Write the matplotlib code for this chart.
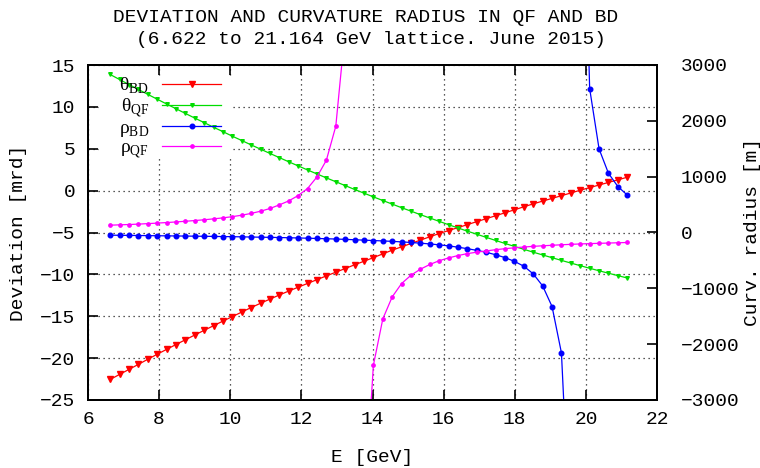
import numpy as np
import matplotlib
matplotlib.use('Agg')
import matplotlib.pyplot as plt
from matplotlib.patches import Rectangle

plt.rcParams['font.family'] = ['Liberation Mono', 'DejaVu Sans Mono']
plt.rcParams['mathtext.fontset'] = 'custom'
plt.rcParams['mathtext.rm'] = 'Liberation Serif'

# energy grid of the lattice (GeV)
energy = [6.622, 6.886, 7.151, 7.415, 7.680, 7.944, 8.208, 8.473, 8.737, 9.002,
          9.266, 9.530, 9.795, 10.059, 10.324, 10.588, 10.852, 11.117, 11.381, 11.646,
          11.910, 12.174, 12.439, 12.703, 12.968, 13.232, 13.496, 13.761, 14.025, 14.290,
          14.554, 14.818, 15.083, 15.347, 15.612, 15.876, 16.140, 16.405, 16.669, 16.934,
          17.198, 17.462, 17.727, 17.991, 18.256, 18.520, 18.784, 19.049, 19.313, 19.578,
          19.842, 20.106, 20.371, 20.635, 20.900, 21.164]

# deviation [mrd]
theta_bd = [-22.55, -21.95, -21.35, -20.75, -20.14, -19.54, -18.96, -18.38, -17.81, -17.24,
            -16.68, -16.13, -15.58, -15.04, -14.50, -13.96, -13.45, -12.95, -12.46, -11.99,
            -11.53, -11.08, -10.63, -10.18, -9.74, -9.30, -8.86, -8.43, -8.00, -7.55,
            -7.11, -6.71, -6.31, -5.91, -5.51, -5.12, -4.77, -4.41, -4.06, -3.70,
            -3.35, -3.00, -2.64, -2.29, -1.93, -1.58, -1.25, -0.93, -0.60, -0.28,
            0.05, 0.36, 0.67, 0.98, 1.29, 1.60]
theta_qf = [13.87, 13.27, 12.67, 12.08, 11.50, 10.92, 10.35, 9.78, 9.22, 8.66,
            8.12, 7.57, 7.04, 6.50, 5.98, 5.46, 4.95, 4.44, 3.94, 3.44,
            2.95, 2.47, 1.99, 1.52, 1.06, 0.60, 0.14, -0.30, -0.75, -1.18,
            -1.61, -2.04, -2.45, -2.87, -3.27, -3.67, -4.07, -4.46, -4.84, -5.21,
            -5.58, -5.95, -6.31, -6.66, -7.01, -7.35, -7.68, -8.01, -8.33, -8.65,
            -8.96, -9.27, -9.57, -9.86, -10.15, -10.43]

# curvature radius [m]
rho_bd = [-48, -50, -52, -54, -56, -58, -60, -62, -64, -66,
          -68, -70, -73, -75, -78, -81, -84, -87, -90, -94,
          -98, -102, -107, -112, -117, -123, -130, -137, -144, -151,
          -159, -168, -179, -191, -205, -221, -240, -263, -290, -320,
          -355, -398, -450, -517, -604, -741, -956, -1326, -2157, -5700,
          9000, 2579, 1497, 1060, 823, 670]
rho_qf = [131, 137, 143, 150, 159, 168, 178, 189, 201, 214,
          228, 244, 262, 284, 310, 342, 381, 430, 495, 566,
          662, 788, 996, 1295, 1904, 3640, 40000, -5100, -2377, -1547,
          -1153, -914, -765, -657, -573, -505, -455, -413, -378, -352,
          -330, -308, -290, -274, -260, -248, -238, -229, -220, -212,
          -205, -199, -194, -189, -184, -179]


def gnuplot_clip(x, y, lo, hi):
    # like gnuplot: drop a segment when both of its ends are off the plot
    xs, ys = [x[0]], [y[0]]
    for i in range(1, len(x)):
        if not (lo <= y[i - 1] <= hi) and not (lo <= y[i] <= hi):
            xs.append(np.nan)
            ys.append(np.nan)
        xs.append(x[i])
        ys.append(y[i])
    return xs, ys


fig = plt.figure(figsize=(7.6, 4.68), dpi=100)
ax = fig.add_axes([88 / 760, 1 - 400 / 468, 569 / 760, 335 / 468])
ax2 = ax.twinx()

ax.set_xlim(6, 22)
ax.set_ylim(-25, 15)
ax2.set_ylim(-3000, 3000)

ax.set_axisbelow(True)
ax.grid(True, color='#222222', linestyle=(0, (1, 3)), linewidth=0.9)

# opaque key area (grid hidden behind the key)
ax.add_patch(Rectangle((0.019, 0.725), 0.236, 0.242, transform=ax.transAxes,
                       facecolor='white', edgecolor='none', zorder=1))

l1, = ax.plot(energy, theta_bd, color='#ff0000', lw=0.9, marker='v', ms=3.8,
              label=r'θ$_{\mathrm{BD}}$', zorder=2)
l2, = ax.plot(energy, theta_qf, color='#00dd00', lw=0.9, marker='v', ms=2.6,
              label=r'θ$_{\mathrm{QF}}$', zorder=2)
xb, yb = gnuplot_clip(energy, rho_bd, -3000, 3000)
l3, = ax2.plot(xb, yb, color='#0000ff', lw=0.9, marker='o', ms=3.3,
               label=r'ρ$_{\mathrm{BD}}$')
xq, yq = gnuplot_clip(energy, rho_qf, -3000, 3000)
l4, = ax2.plot(xq, yq, color='#ff00ff', lw=0.9, marker='o', ms=2.4,
               label=r'ρ$_{\mathrm{QF}}$')

ax.set_xticks(np.arange(6, 23, 2))
ax.set_yticks(np.arange(-25, 16, 5))
ax2.set_yticks(np.arange(-3000, 3001, 1000))

ax.tick_params(axis='x', direction='in', top=True, length=7.5, width=1.2,
               labelsize=14, pad=8)
ax.tick_params(axis='y', direction='in', left=True, right=False, length=7.5,
               width=1.2, labelsize=14, pad=9)
ax2.tick_params(axis='y', direction='in', length=7, width=1.2, labelsize=14, pad=17)

for a in (ax, ax2):
    for s in a.spines.values():
        s.set_linewidth(1.4)

ax.set_xlabel('E [GeV]', fontsize=14)
ax.xaxis.set_label_coords(0.5, -0.145)
ax.set_ylabel('Deviation [mrd]', fontsize=14)
ax.yaxis.set_label_coords(-0.107, 0.5)
ax2.set_ylabel('Curv. radius [m]', fontsize=14)
ax2.yaxis.set_label_coords(1.153, 0.5)

fig.text(366 / 760, 1 - 22 / 468, 'DEVIATION AND CURVATURE RADIUS IN QF AND BD',
         ha='center', va='baseline', fontsize=14)
fig.text(371.5 / 760, 1 - 43.5 / 468, '(6.622 to 21.164 GeV lattice. June 2015)',
         ha='center', va='baseline', fontsize=14)

ax2.legend(handles=[l1, l2, l3, l4], loc='upper right', bbox_to_anchor=(0.234, 0.967),
           frameon=False, markerfirst=False,
           prop={'family': 'Liberation Serif', 'size': 14},
           handlelength=3.03, handletextpad=0.67, labelspacing=0.0,
           borderaxespad=0, borderpad=0)

fig.savefig('out.png', dpi=100)
